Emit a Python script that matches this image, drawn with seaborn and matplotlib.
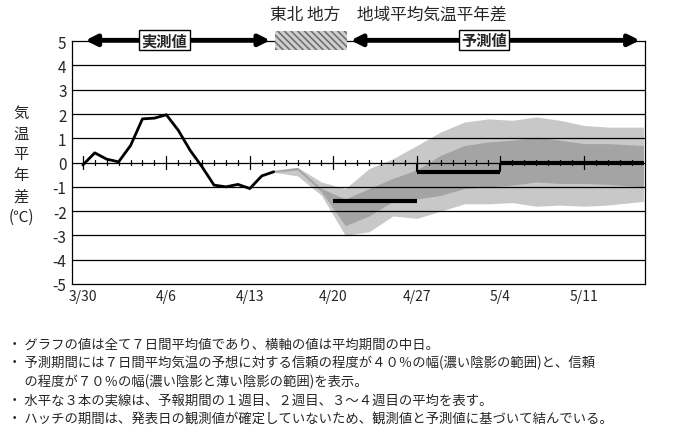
import numpy as np
import matplotlib
matplotlib.use('Agg')
import matplotlib.pyplot as plt
import seaborn as sns
from matplotlib.patches import Rectangle

sns.set_theme(style='white')
plt.rcParams['font.family'] = ['Noto Sans CJK JP', 'DejaVu Sans']
plt.rcParams['hatch.linewidth'] = 1.2

# observed 7-day mean anomaly, days counted from 3/30
obs_days = np.arange(0, 17)
obs_vals = [-0.1, 0.4, 0.14, 0.03, 0.7, 1.8, 1.83, 1.97, 1.33, 0.5, -0.18, -0.93, -1.0, -0.9, -1.07, -0.55, -0.38]

# forecast bands
band_days = [16, 18, 20, 22, 24, 26, 28, 30, 32, 34, 36, 38, 40, 42, 44, 47]
light_hi = [-0.3, -0.2, -0.8, -1.07, -0.25, 0.16, 0.7, 1.26, 1.67, 1.8, 1.74, 1.88, 1.74, 1.53, 1.46, 1.46]
light_lo = [-0.4, -0.55, -1.35, -3.0, -2.85, -2.2, -2.3, -2.0, -1.7, -1.7, -1.65, -1.8, -1.75, -1.8, -1.75, -1.6]
dark_hi = [-0.35, -0.2, -1.07, -1.5, -1.07, -0.65, -0.3, 0.3, 0.7, 0.85, 0.92, 1.05, 0.92, 0.78, 0.78, 0.7]
dark_lo = [-0.4, -0.3, -1.2, -2.6, -2.2, -1.6, -1.5, -1.35, -1.07, -1.0, -0.93, -0.8, -0.86, -0.86, -0.9, -1.0]

# weekly forecast means: (start day, end day, value)
week_start = [21, 28, 35]
week_end = [28, 35, 47]
week_vals = [-1.6, -0.4, 0.0]

tick_days = [0, 7, 14, 21, 28, 35, 42]
tick_labels = ['3/30', '4/6', '4/13', '4/20', '4/27', '5/4', '5/11']

fig = plt.figure(figsize=(7.0, 4.35), dpi=100)
ax = fig.add_axes([0.103, 0.345, 0.818, 0.558])
ax.set_xlim(-0.9, 47.1)
ax.set_ylim(-5, 5)

ax.fill_between(band_days, light_lo, light_hi, color='#c8c8c8', lw=0)
ax.fill_between(band_days, dark_lo, dark_hi, color='#a4a4a4', lw=0)

for v in range(-4, 5):
    ax.axhline(v, color='black', lw=0.9, zorder=1)

sns.lineplot(x=obs_days, y=obs_vals, ax=ax, color='black', lw=2, zorder=4)

ax.hlines(week_vals, week_start, week_end, color='black', lw=3, zorder=5)
ax.vlines([week_start[1], week_end[1]], week_vals[1], 0, color='black', lw=1.5, zorder=5)

# minor ticks on zero line
for d in range(0, 47):
    h = 0.25 if d in tick_days else 0.12
    ax.plot([d, d], [-h, h], color='black', lw=0.9, zorder=3)

ax.set_xticks(tick_days)
ax.set_xticklabels(tick_labels, fontsize=10)
ax.set_yticks(range(-5, 6))
ax.set_yticklabels([str(v) for v in range(-5, 6)], fontsize=11)
ax.tick_params(length=0, pad=4)
for s in ax.spines.values():
    s.set_color('black')
    s.set_linewidth(0.9)

# title and header arrows
fig.text(0.555, 0.965, '東北 地方　地域平均気温平年差', ha='center', va='center', fontsize=12)
ya = 0.905
arrow = dict(arrowstyle='<|-|>', color='black', lw=3.5, mutation_scale=16)
fig.patches.append(matplotlib.patches.FancyArrowPatch((0.118, ya), (0.39, ya), transform=fig.transFigure, **arrow))
fig.patches.append(matplotlib.patches.FancyArrowPatch((0.497, ya), (0.918, ya), transform=fig.transFigure, **arrow))
fig.patches.append(Rectangle((0.393, ya - 0.022), 0.102, 0.044, transform=fig.transFigure,
                             facecolor='#d0d0d0', edgecolor='#707070', hatch='\\\\\\\\\\', lw=0))
for x, t in [(0.235, '実測値'), (0.692, '予測値')]:
    fig.text(x, ya, t, ha='center', va='center', fontsize=11, fontweight='bold',
             bbox=dict(facecolor='white', edgecolor='black', pad=1.5, lw=1))

fig.text(0.03, 0.62, '気\n温\n平\n年\n差\n(℃)', ha='center', va='center', fontsize=11, linespacing=1.3)

notes = ['・ グラフの値は全て７日間平均値であり、横軸の値は平均期間の中日。',
         '・ 予測期間には７日間平均気温の予想に対する信頼の程度が４０％の幅(濃い陰影の範囲)と、信頼',
         '　 の程度が７０％の幅(濃い陰影と薄い陰影の範囲)を表示。',
         '・ 水平な３本の実線は、予報期間の１週目、２週目、３～４週目の平均を表す。',
         '・ ハッチの期間は、発表日の観測値が確定していないため、観測値と予測値に基づいて結んでいる。']
note_y = [0.207, 0.165, 0.122, 0.08, 0.038]
for t, y in zip(notes, note_y):
    fig.text(0.012, y, t, fontsize=9.6, va='center')

fig.savefig('out.png', dpi=100)
